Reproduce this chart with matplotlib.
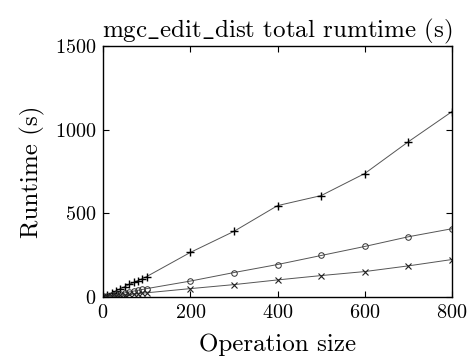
import matplotlib
matplotlib.use('Agg')
import matplotlib.pyplot as plt

plt.rcParams['font.family'] = ['cmr10', 'DejaVu Serif']
plt.rcParams['mathtext.fontset'] = 'cm'
plt.rcParams['axes.formatter.use_mathtext'] = True

# operation sizes and runtimes (s)
sizes = [0, 10, 20, 30, 40, 50, 60, 70, 80, 90, 100, 200, 300, 400, 500, 600, 700, 800]
runtime_plus = [0, 12, 25, 37, 50, 62, 75, 87, 98, 110, 122, 266, 392, 546, 606, 738, 928, 1108]
runtime_circle = [0, 5, 10, 15, 20, 25, 30, 35, 40, 45, 50, 95, 146, 194, 248, 302, 360, 408]
runtime_cross = [0, 3, 5, 8, 10, 13, 15, 18, 20, 23, 25, 50, 74, 102, 128, 152, 186, 224]

figure_width = 4.69
figure_height = 3.61
fig = plt.figure(figsize=(figure_width, figure_height), dpi=100)
ax = fig.add_axes([0.2196, 0.1773, 0.7442, 0.6953])

line_color = '#555555'
ax.plot(sizes, runtime_plus, color=line_color, linewidth=0.7,
        marker='+', markersize=6, markeredgecolor='black', markeredgewidth=1.0)
ax.plot(sizes, runtime_circle, color=line_color, linewidth=0.7,
        marker='o', markersize=4, markerfacecolor='none',
        markeredgecolor='#333333', markeredgewidth=0.7)
ax.plot(sizes, runtime_cross, color=line_color, linewidth=0.7,
        marker='x', markersize=4, markeredgecolor='#222222', markeredgewidth=0.8)

ax.set_xlim(0, 800)
ax.set_ylim(0, 1500)
ax.set_xticks([0, 200, 400, 600, 800])
ax.set_yticks([0, 500, 1000, 1500])
ax.tick_params(direction='in', top=True, right=True, length=4, width=0.8,
               labelsize=14.5, pad=5)
for spine in ax.spines.values():
    spine.set_linewidth(1.0)

ax.set_xlabel('Operation size', fontsize=18, labelpad=8)
ax.set_ylabel('Runtime (s)', fontsize=18, labelpad=7)
ax.set_title(r'$\mathrm{mgc\_edit\_dist}$ total rumtime (s)', fontsize=18, pad=6)

plt.savefig('out.png', dpi=100)
